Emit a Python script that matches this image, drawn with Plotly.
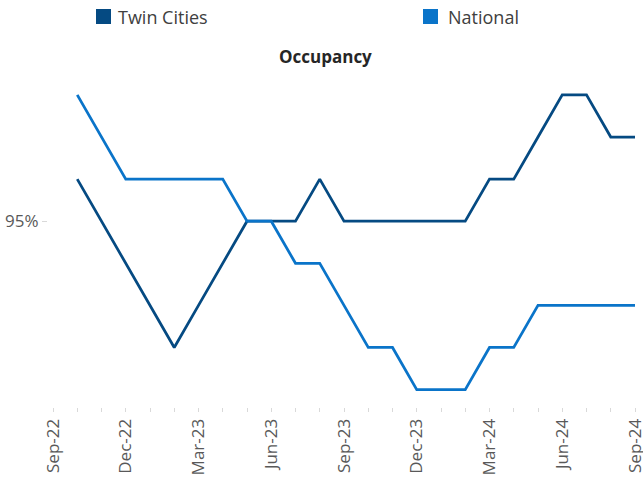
import plotly.graph_objects as go

# ---- data ----
axis_months = ["Sep-22", "Oct-22", "Nov-22", "Dec-22", "Jan-23", "Feb-23", "Mar-23", "Apr-23",
               "May-23", "Jun-23", "Jul-23", "Aug-23", "Sep-23", "Oct-23", "Nov-23", "Dec-23",
               "Jan-24", "Feb-24", "Mar-24", "Apr-24", "May-24", "Jun-24", "Jul-24", "Aug-24",
               "Sep-24"]
data_months = axis_months[1:]
twin_cities = [95.5, 95.0, 94.5, 94.0, 93.5, 94.0, 94.5, 95.0, 95.0, 95.0, 95.5, 95.0,
               95.0, 95.0, 95.0, 95.0, 95.0, 95.5, 95.5, 96.0, 96.5, 96.5, 96.0, 96.0]
national = [96.5, 96.0, 95.5, 95.5, 95.5, 95.5, 95.5, 95.0, 95.0, 94.5, 94.5, 94.0,
            93.5, 93.5, 93.0, 93.0, 93.0, 93.5, 93.5, 94.0, 94.0, 94.0, 94.0, 94.0]
tick_labels = ["Sep-22", "Dec-22", "Mar-23", "Jun-23", "Sep-23", "Dec-23", "Mar-24", "Jun-24", "Sep-24"]
y_tick_vals = [95]
y_tick_text = ["95%"]
series_names = ["Twin Cities", "National"]
colors = ["#054a82", "#0a74c9"]

# ---- figure ----
W, H = 643, 480
L, R, T, B = 48, 5, 80, 73
pw, ph = W - L - R, H - T - B

xpos = {m: i for i, m in enumerate(axis_months)}
x_data = [xpos[m] for m in data_months]

fig = go.Figure()
for name, vals, col in zip(series_names, [twin_cities, national], colors):
    fig.add_trace(go.Scatter(x=x_data, y=vals, mode="lines", name=name,
                             line=dict(color=col, width=2.75), showlegend=False,
                             hoverinfo="skip"))

def px_x(px):
    return (px - L) / pw

def px_y(py):
    return (H - B - py) / ph

# legend (squares + text)
legend_items = [(series_names[0], colors[0], 96, 116), (series_names[1], colors[1], 423, 446)]
shapes = []
annotations = []
for name, col, sx, tx in legend_items:
    shapes.append(dict(type="rect", xref="paper", yref="paper",
                       x0=px_x(sx), x1=px_x(sx + 15), y0=px_y(24), y1=px_y(9),
                       fillcolor=col, line=dict(width=0)))
    annotations.append(dict(text=name, xref="paper", yref="paper", x=px_x(tx), y=px_y(17),
                            xanchor="left", yanchor="middle", showarrow=False,
                            font=dict(family="Open Sans", size=18, color="#404040")))
annotations.append(dict(text="<b>Occupancy</b>", xref="paper", yref="paper",
                        x=px_x(325), y=px_y(56), xanchor="center", yanchor="middle",
                        showarrow=False,
                        font=dict(family="Open Sans", size=17, color="#262626")))

month_px = 24.23
fig.update_layout(
    width=W, height=H,
    margin=dict(l=L, r=R, t=T, b=B, autoexpand=False),
    paper_bgcolor="white", plot_bgcolor="white",
    shapes=shapes, annotations=annotations,
    font=dict(family="Open Sans", color="#595959"),
    xaxis=dict(
        range=[-5 / month_px, 24 + 3 / month_px],
        tickmode="array",
        tickvals=[xpos[m] for m in tick_labels],
        ticktext=tick_labels,
        tickangle=-90,
        ticklabeloverflow="allow",
        automargin=False,
        ticks="outside", ticklen=4, tickcolor="#d9d9d9", tickwidth=1,
        minor=dict(dtick=1, tick0=0, ticks="outside", ticklen=4, tickcolor="#d9d9d9", tickwidth=1),
        showgrid=False, zeroline=False, showline=False,
        tickfont=dict(family="Open Sans", size=17, color="#595959"),
    ),
    yaxis=dict(
        range=[92.793, 96.677],
        tickmode="array", tickvals=y_tick_vals, ticktext=y_tick_text,
        automargin=False,
        ticks="outside", ticklen=5, tickcolor="#d9d9d9", tickwidth=1,
        showgrid=False, zeroline=False, showline=False,
        tickfont=dict(family="Open Sans", size=17, color="#595959"),
    ),
)

fig.write_html("out.html", config={"displayModeBar": False},
               post_script="document.body.style.margin='0';")
